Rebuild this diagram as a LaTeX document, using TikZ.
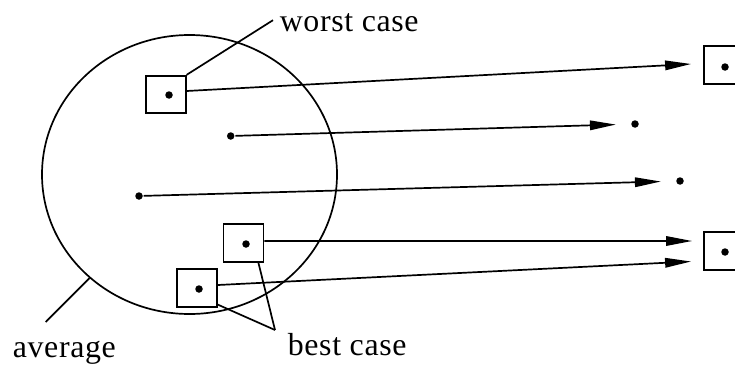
\documentclass[tikz,border=0pt]{standalone}
\usepackage{fontspec}
\setmainfont{Liberation Serif}[LetterSpace=2]
\usetikzlibrary{arrows.meta,shapes.geometric}
\begin{document}
\begin{tikzpicture}[x=1bp,y=1bp,line width=1.7bp,
  sbox/.style={draw,line width=1.8bp,minimum width=40bp,minimum height=37.5bp,inner sep=0pt},
  pt/.style={circle,fill,inner sep=0pt,minimum size=7.5bp},
  arr/.style={-{Triangle[length=26bp,width=9.5bp]}},
  lbl/.style={anchor=base west,inner sep=0pt,font=\fontsize{32}{36}\selectfont}]
\useasboundingbox (0,0) rectangle (735,365);
% the set
\node[ellipse,draw,inner sep=0pt,minimum width=295bp,minimum height=279bp] (avg) at (189.5,190.5) {};
% boxes
\node[sbox] (wbox) at (165.7,270.5) {};
\node[sbox] (b1box) at (243.5,122) {};
\node[sbox] (b2box) at (197,77) {};
\node[sbox] (rbox1) at (724,300) {};
\node[sbox] (rbox2) at (724,114) {};
% dots
\node[pt] (wdot) at (169,270) {};
\node[pt] (d2) at (230.7,229) {};
\node[pt] (d3) at (139,169) {};
\node[pt] (b1dot) at (246,121) {};
\node[pt] (b2dot) at (199,76) {};
\node[pt] (rdot1) at (725,298) {};
\node[pt] (rdot2) at (725,113) {};
\node[pt] (t2) at (635,241) {};
\node[pt] (t3) at (680,184) {};
% labels
\node[lbl] (wlabel) at (279,334) {worst case};
\node[lbl] (alabel) at (12,8) {average};
\node[lbl] (blabel) at (287,10) {best case};
\coordinate (aend) at (45.7,43);
\coordinate (bend) at (275,35);
% arrows
\draw[arr] ([yshift=3.5bp]wbox.east) -- ([xshift=-12bp,yshift=1bp]rbox1.west);
\draw[arr,shorten >=14.5bp] (d2) -- (t2);
\draw[arr,shorten >=14.5bp] (d3) -- (t3);
\draw[arr] ([yshift=2bp]b1box.east) -- ([xshift=-11bp,yshift=10bp]rbox2.west);
\draw[arr] ([yshift=3bp]b2box.east) -- ([xshift=-12bp,yshift=-10.5bp]rbox2.west);
% label lines
\draw (wbox.north east) -- ([xshift=-6bp,yshift=2bp]wlabel.west);
\draw (avg.226) -- (aend);
\draw ([xshift=-6bp]b1box.south east) -- (bend);
\draw ([yshift=3bp]b2box.south east) -- (bend);
\end{tikzpicture}
\end{document}
